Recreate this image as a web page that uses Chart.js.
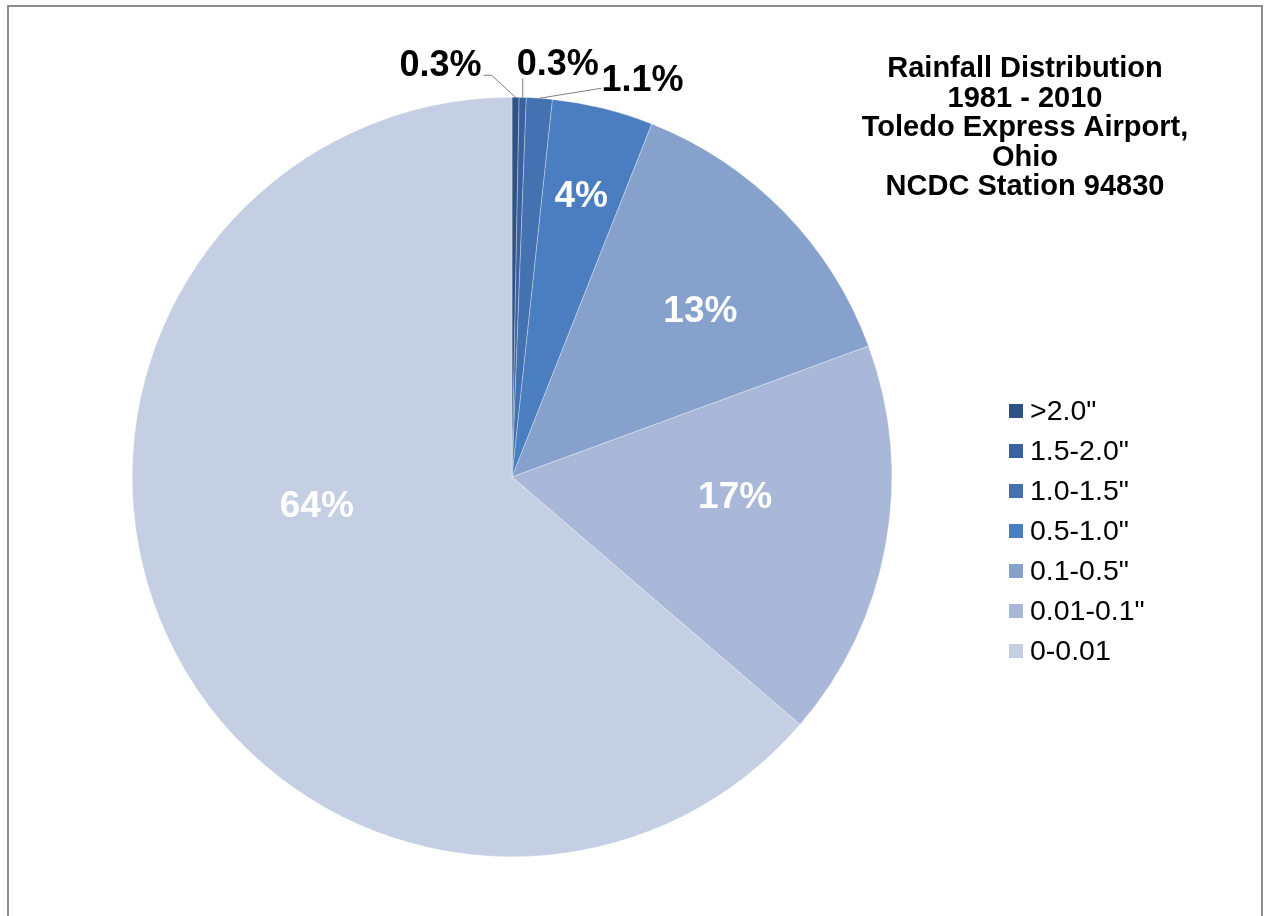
<!DOCTYPE html>
<html>
<head>
<meta charset="utf-8">
<script src="https://cdn.jsdelivr.net/npm/chart.js@4.4.0/dist/chart.umd.min.js"></script>
<style>
html, body { margin: 0; padding: 0; background: #fff; overflow: hidden; }
#wrap { position: relative; width: 1266px; height: 916px; }
</style>
</head>
<body>
<div id="wrap"><canvas id="myChart"></canvas></div>
<script>
const categories = ['>2.0"', '1.5-2.0"', '1.0-1.5"', '0.5-1.0"', '0.1-0.5"', '0.01-0.1"', '0-0.01'];
const shares = [0.3, 0.3, 1.1, 4.3, 13.4, 16.9, 63.7];
const shareLabels = ['0.3%', '0.3%', '1.1%', '4%', '13%', '17%', '64%'];
const titleLines = ['Rainfall Distribution', '1981 - 2010', 'Toledo Express Airport,', 'Ohio', 'NCDC Station 94830'];

const sliceColors = ['#2f5385', '#3a62a0', '#4471b0', '#4a7ec0', '#86a1cb', '#a9b8d8', '#c5cfe3'];
const FONT = "'Liberation Sans', Arial, sans-serif";

// callouts for the thin slices (offsets from the arc edge point)
const callouts = [
    { dx: -24, dy: -22, align: 'right' },
    { dx: 0, dy: -19, align: 'left' },
    { dx: 62, dy: -10, align: 'left' }
];
// inside label placement (fraction of radius, angle shift in degrees), like Excel's best fit
const insideFit = [null, null, null, { r: 0.76, da: 0 }, { r: 0.66, da: 3 }, { r: 0.59, da: -5 }, { r: 0.52, da: 16 }];

const framePlugin = {
    id: 'frame',
    beforeDraw(chart) {
        const ctx = chart.ctx;
        ctx.save();
        ctx.strokeStyle = '#8c8c8c';
        ctx.lineWidth = 2;
        ctx.strokeRect(8, 6, 1254, 1000);
        ctx.restore();
    }
};

const labelPlugin = {
    id: 'sliceLabels',
    afterDatasetsDraw(chart) {
        const ctx = chart.ctx;
        const arcs = chart.getDatasetMeta(0).data;
        ctx.save();
        ctx.textBaseline = 'middle';
        arcs.forEach((arc, i) => {
            const p = arc.getProps(['x', 'y', 'startAngle', 'endAngle', 'outerRadius'], true);
            const mid = (p.startAngle + p.endAngle) / 2;
            if (i < callouts.length) {
                const c = callouts[i];
                const ex = p.x + Math.cos(mid) * p.outerRadius;
                const ey = p.y + Math.sin(mid) * p.outerRadius;
                const lx = ex + c.dx, ly = ey + c.dy;
                ctx.strokeStyle = '#7f7f7f';
                ctx.lineWidth = 1;
                ctx.beginPath();
                ctx.moveTo(ex, ey);
                ctx.lineTo(lx, ly);
                if (c.align === 'right') ctx.lineTo(lx - 8, ly);
                ctx.stroke();
                ctx.font = 'bold 36px ' + FONT;
                ctx.fillStyle = '#000';
                if (c.align === 'right') {
                    ctx.textAlign = 'right';
                    ctx.fillText(shareLabels[i], lx - 10, ly - 9);
                } else if (c.dx === 0) {
                    ctx.textAlign = 'left';
                    ctx.fillText(shareLabels[i], lx - 6, ly - 13);
                } else {
                    ctx.textAlign = 'left';
                    ctx.fillText(shareLabels[i], lx, ly - 7);
                }
            } else {
                const fit = insideFit[i];
                const a = mid + fit.da * Math.PI / 180;
                const r = p.outerRadius * fit.r;
                ctx.font = 'bold 37px ' + FONT;
                ctx.fillStyle = '#fff';
                ctx.textAlign = 'center';
                ctx.fillText(shareLabels[i], p.x + Math.cos(a) * r, p.y + Math.sin(a) * r);
            }
        });
        ctx.restore();
    },
    afterDraw(chart) {
        const ctx = chart.ctx;
        ctx.save();
        // title
        ctx.fillStyle = '#000';
        ctx.textAlign = 'center';
        ctx.textBaseline = 'middle';
        ctx.font = 'bold 29px ' + FONT;
        titleLines.forEach((t, i) => ctx.fillText(t, 1025, 69 + i * 29.6));
        // legend
        ctx.textAlign = 'left';
        ctx.font = '28.5px ' + FONT;
        categories.forEach((c, i) => {
            const y = 411 + i * 40;
            ctx.fillStyle = sliceColors[i];
            ctx.fillRect(1009, y - 7, 14, 14);
            ctx.fillStyle = '#000';
            ctx.fillText(c, 1030, y + 1);
        });
        ctx.restore();
    }
};

const config = {
    type: 'pie',
    data: {
        labels: categories,
        datasets: [{
            data: shares,
            backgroundColor: sliceColors,
            borderColor: 'rgba(255,255,255,0.6)',
            borderWidth: 0.5
        }]
    },
    options: {
        responsive: true,
        maintainAspectRatio: false,
        animation: false,
        layout: {
            padding: { left: 132, top: 97, right: 374, bottom: 59 }
        },
        plugins: {
            legend: { display: false },
            title: { display: false },
            tooltip: { enabled: false }
        }
    },
    plugins: [framePlugin, labelPlugin]
};

const ctx = document.getElementById('myChart');
new Chart(ctx, config);
</script>
</body>
</html>
